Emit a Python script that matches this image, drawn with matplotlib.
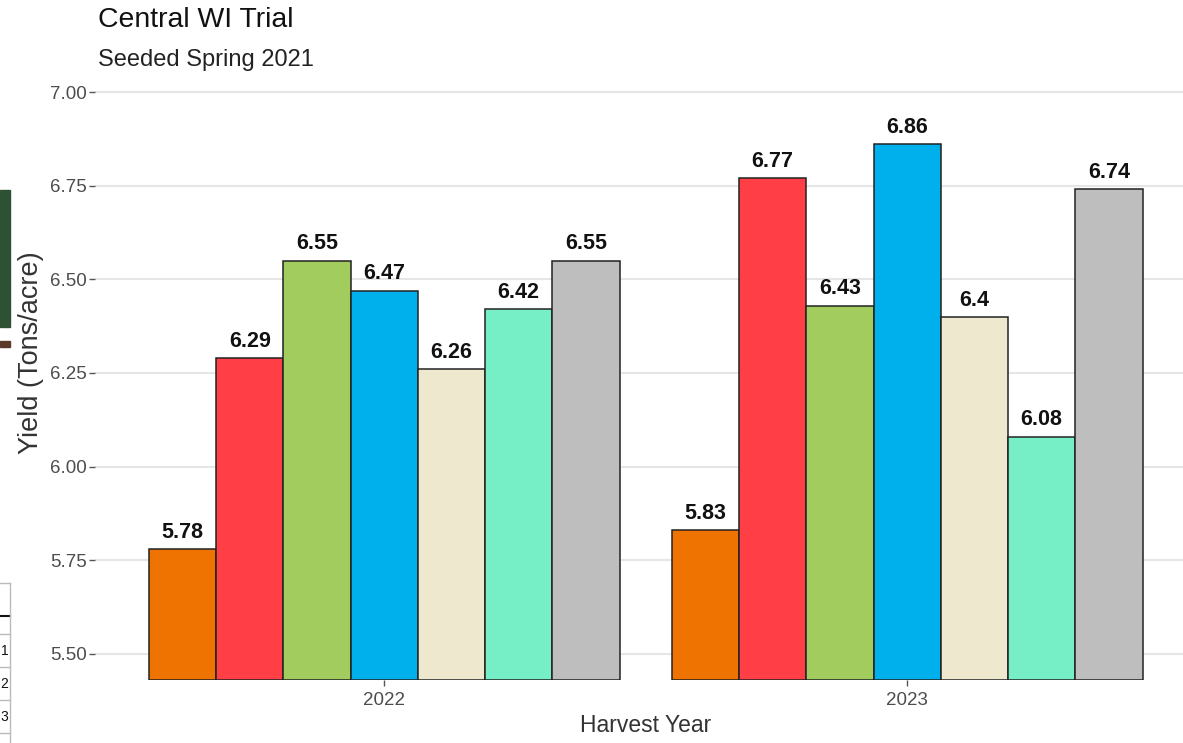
import matplotlib.pyplot as plt
from matplotlib.patches import Rectangle
from matplotlib.lines import Line2D

plt.rcParams['font.family'] = ['Liberation Sans', 'DejaVu Sans']

years = ['2022', '2023']
yield_2022 = [5.78, 6.29, 6.55, 6.47, 6.26, 6.42, 6.55]
yield_2023 = [5.83, 6.77, 6.43, 6.86, 6.40, 6.08, 6.74]
fills = ['#EE7300', '#FF3F45', '#A2CC5E', '#00B0EC', '#EEE8CE', '#76EEC6', '#BEBEBE']
yticks = [5.50, 5.75, 6.00, 6.25, 6.50, 6.75, 7.00]

fig = plt.figure(figsize=(11.83, 7.43), dpi=100)
ax = fig.add_axes([0.0803, 0.0848, 0.931, 0.8065])

n = len(fills)
group_w = 0.9
bw = group_w / n
base = 5.43
for gi, vals in enumerate([yield_2022, yield_2023]):
    for i, v in enumerate(vals):
        x = gi + 1 - group_w / 2 + bw * (i + 0.5)
        ax.bar(x, v - base, bottom=base, width=bw, color=fills[i],
               edgecolor='#222222', linewidth=1.1, zorder=3)
        ax.annotate(f'{v:g}', (x, v), xytext=(0, 4.5), textcoords='offset points',
                    ha='center', va='bottom', fontsize=15.5, fontweight='bold',
                    color='#111111', zorder=4)

ax.set_xlim(1 - 0.553, 2 + 0.553)
ax.set_ylim(5.4306, 7.03)
ax.set_xticks([1, 2])
ax.set_xticklabels(years)
ax.set_yticks(yticks)
ax.set_yticklabels([f'{t:.2f}' for t in yticks])
ax.grid(axis='y', color='#E6E6E6', linewidth=1.5, zorder=0)
for s in ax.spines.values():
    s.set_visible(False)
ax.tick_params(axis='both', colors='#555555', labelsize=13.5, length=4, width=1)
ax.tick_params(axis='y', pad=2)
ax.tick_params(axis='x', pad=5)
for lab in ax.get_xticklabels() + ax.get_yticklabels():
    lab.set_color('#4D4D4D')

ax.set_xlabel('Harvest Year', fontsize=16.5, color='#333333', labelpad=3)
ax.set_ylabel('Yield (Tons/acre)', fontsize=19.5, color='#333333')
ax.yaxis.set_label_coords(-0.046, 0.546)

fig.text(0.0828, 0.9637, 'Central WI Trial', fontsize=20.4, color='#111111', va='baseline')
fig.text(0.0828, 0.911, 'Seeded Spring 2021', fontsize=17, color='#222222', va='baseline')

# bits of neighbouring content along the left edge
W, H = 1183, 743
fig.patches.append(Rectangle((0, 1 - 327 / H), 10 / W, 137 / H,
                             transform=fig.transFigure, color='#2E5134'))
fig.patches.append(Rectangle((0, 1 - 347 / H), 10 / W, 6 / H,
                             transform=fig.transFigure, color='#5B3A29'))
for yy, c, lw in [(583, '#BBBBBB', 1), (616, '#111111', 1.5), (634, '#BBBBBB', 1),
                  (667, '#BBBBBB', 1), (700, '#BBBBBB', 1), (733, '#BBBBBB', 1)]:
    fig.lines.append(Line2D([0, 10 / W], [1 - yy / H] * 2, transform=fig.transFigure,
                            color=c, linewidth=lw))
fig.lines.append(Line2D([10 / W] * 2, [1 - 583 / H, 0], transform=fig.transFigure,
                        color='#BBBBBB', linewidth=1))
for k, yy in enumerate([651, 684, 717]):
    fig.text(0.0005, 1 - yy / H, str(k + 1), fontsize=10, color='#111111', va='center')

fig.savefig('out.png', dpi=100)
